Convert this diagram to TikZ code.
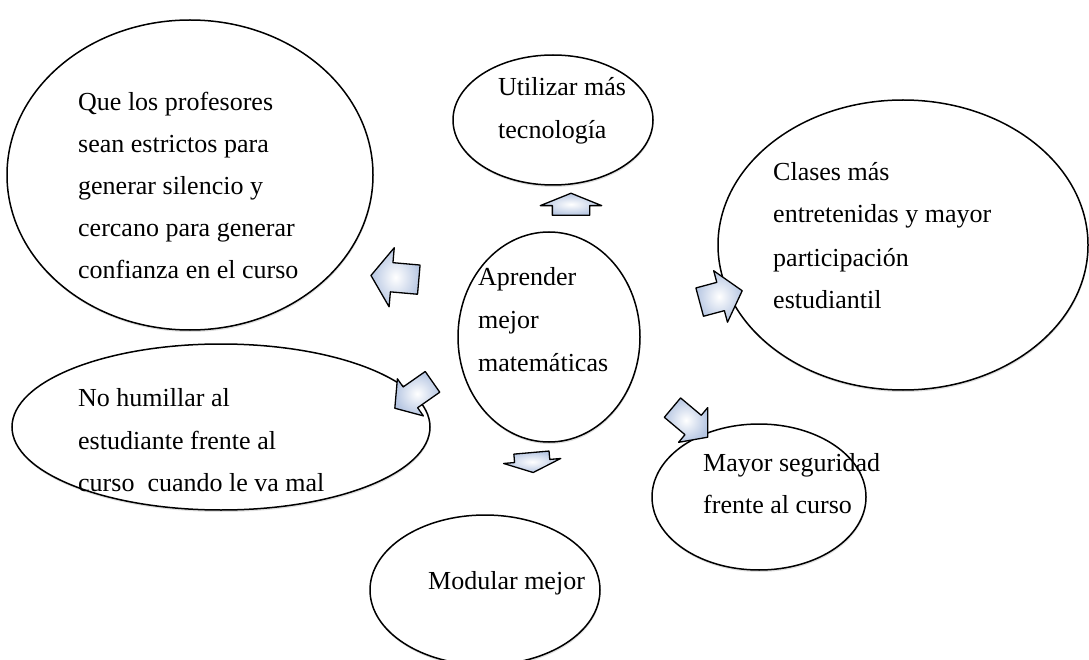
\documentclass[tikz,border=0pt]{standalone}
\usepackage{fontspec}
\setmainfont{Liberation Serif}
\usetikzlibrary{shapes.geometric,shapes.arrows,shadows}
\definecolor{arrowblue}{RGB}{182,198,226}
\begin{document}
\begin{tikzpicture}[x=1pt,y=-1pt,
  bubble/.style={ellipse, draw=black, line width=1.5pt, fill=white, inner sep=0pt,
    drop shadow={opacity=0.25, shadow xshift=0.5pt, shadow yshift=-2pt}},
  txt/.style={inner sep=0pt, anchor=base west, font=\fontsize{26}{30}\selectfont},
  blockarrow/.style={single arrow, draw=black, line width=1.3pt, inner xsep=0pt,
    inner color=white, outer color=arrowblue, line join=round}]
\useasboundingbox (0,0) rectangle (1089,660);

% ellipses
\node[bubble, minimum width=366, minimum height=310] (prof) at (190,175) {};
\node[bubble, minimum width=200, minimum height=130] (tec) at (553,120) {};
\node[bubble, minimum width=370, minimum height=290] (clases) at (903,245) {};
\node[bubble, minimum width=182, minimum height=210] (centro) at (549,337) {};
\node[bubble, minimum width=418, minimum height=166] (humillar) at (221,427) {};
\node[bubble, minimum width=214, minimum height=146] (seguridad) at (759,497) {};
\node[bubble, minimum width=230, minimum height=150] (modular) at (485,590) {};

% block arrows
\node[blockarrow, rotate=90, inner ysep=18, minimum height=22,
  single arrow head extend=12, single arrow tip angle=136] (aup) at (571,208) {};
\node[blockarrow, rotate=175, inner ysep=14, minimum height=48,
  single arrow head extend=15, single arrow tip angle=110] (aleft) at (400,278) {};
\node[blockarrow, rotate=215, inner ysep=12, minimum height=46,
  single arrow head extend=10, single arrow tip angle=100] (alowleft) at (418,392) {};
\node[blockarrow, rotate=15, inner ysep=14, minimum height=44,
  single arrow head extend=12, single arrow tip angle=100] (aright) at (715,298) {};
\node[blockarrow, rotate=-40, inner ysep=12, minimum height=46,
  single arrow head extend=10, single arrow tip angle=100] (alowright) at (686,419) {};
\node[blockarrow, rotate=-85, inner ysep=17, minimum height=20,
  single arrow head extend=11, single arrow tip angle=136] (adown) at (532,459) {};

% texts
\node[txt] (p1) at (78,111) {Que los profesores};
\node[txt] (p2) at (78,153) {sean estrictos para};
\node[txt] (p3) at (78,195) {generar silencio y};
\node[txt] (p4) at (78,237) {cercano para generar};
\node[txt] (p5) at (78,279) {confianza en el curso};

\node[txt] (t1) at (498,96) {Utilizar más};
\node[txt] (t2) at (498,139) {tecnología};

\node[txt] (c1) at (773,181) {Clases más};
\node[txt] (c2) at (773,223) {entretenidas y mayor};
\node[txt] (c3) at (773,266) {participación};
\node[txt] (c4) at (773,308) {estudiantil};

\node[txt] (m1) at (478,286) {Aprender};
\node[txt] (m2) at (478,328) {mejor};
\node[txt] (m3) at (478,371) {matemáticas};

\node[txt] (h1) at (78,406) {No humillar al};
\node[txt] (h2) at (78,449) {estudiante frente al};
\node[txt] (h3) at (78,491) {curso\ \ cuando le va mal};

\node[txt] (s1) at (703,471) {Mayor seguridad};
\node[txt] (s2) at (703,513) {frente al curso};

\node[txt] (o1) at (428,589) {Modular mejor};
\end{tikzpicture}
\end{document}
